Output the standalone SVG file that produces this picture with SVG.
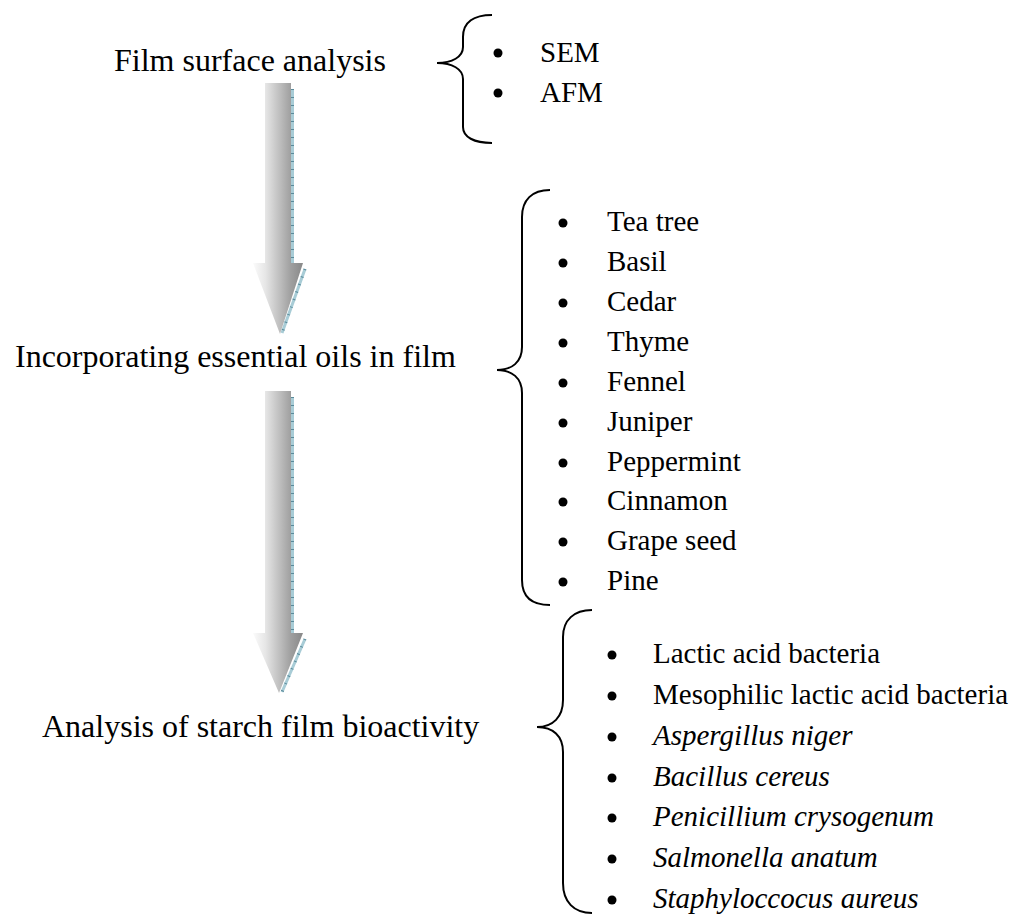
<svg xmlns="http://www.w3.org/2000/svg" width="1025" height="914" viewBox="0 0 1025 914">
<style>
.lbl{font-family:"Liberation Serif","Times New Roman",serif;font-size:32px;fill:#000}
.it{font-family:"Liberation Serif","Times New Roman",serif;font-size:29px;fill:#000}
.i{font-style:italic}
.brace{fill:none;stroke:#000;stroke-width:2}
.edge{fill:none;stroke:#a8ccd6;stroke-width:3}
.tick{fill:none;stroke:#5a8a9a;stroke-width:3;stroke-dasharray:1 7}
</style>
<defs>
<linearGradient id="g" x1="0" y1="0" x2="1" y2="0">
<stop offset="0" stop-color="#fbfbfb"/>
<stop offset="0.25" stop-color="#e6e6e6"/>
<stop offset="0.75" stop-color="#a0a0a0"/>
<stop offset="1" stop-color="#888"/>
</linearGradient>
</defs>
<rect width="1025" height="914" fill="#fff"/>
<g id="connectors">
<g id="arrow1">
<path class="edge" d="M292.5 89 V263 M305 269 L282 333"/>
<path class="tick" d="M292.5 89 V263 M305 269 L282 333"/>
<polygon points="265,83 291,83 291,263 303,263 280,334 253,263 265,263" fill="url(#g)"/>
</g>
<g id="arrow2">
<path class="edge" d="M292.5 397 V633 M305 639 L282 692"/>
<path class="tick" d="M292.5 397 V633 M305 639 L282 692"/>
<polygon points="265,391 291,391 291,633 303,633 279,693 253,633 265,633" fill="url(#g)"/>
</g>
</g>
<g id="node-film-surface">
<text class="lbl" x="114" y="71">Film surface analysis</text>
<path class="brace" d="M492 15 C474 15 463 22 463 37 L463 47 C463 57 452 63 437 63 C452 63 463 69 463 79 L463 127 C463 137 474 143 492 143"/>
<circle cx="498" cy="53" r="4.5"/>
<circle cx="498" cy="93" r="4.5"/>
<text class="it" x="540" y="62">SEM</text>
<text class="it" x="540" y="102">AFM</text>
</g>
<g id="node-essential-oils">
<text class="lbl" x="15" y="367">Incorporating essential oils in film</text>
<path class="brace" d="M550 190 C532 190 522 200 522 217 L522 347 C522 362 512 370 497 370 C512 370 522 378 522 393 L522 580 C522 597 532 605 550 605"/>
<g id="oil-bullets">
<circle cx="563" cy="223" r="4.5"/><circle cx="563" cy="263" r="4.5"/><circle cx="563" cy="303" r="4.5"/><circle cx="563" cy="343" r="4.5"/><circle cx="563" cy="383" r="4.5"/><circle cx="563" cy="423" r="4.5"/><circle cx="563" cy="463" r="4.5"/><circle cx="563" cy="502" r="4.5"/><circle cx="563" cy="542" r="4.5"/><circle cx="563" cy="582" r="4.5"/>
</g>
<text class="it" x="607" y="231">Tea tree</text>
<text class="it" x="607" y="271">Basil</text>
<text class="it" x="607" y="311">Cedar</text>
<text class="it" x="607" y="351">Thyme</text>
<text class="it" x="607" y="391">Fennel</text>
<text class="it" x="607" y="431">Juniper</text>
<text class="it" x="607" y="471">Peppermint</text>
<text class="it" x="607" y="510">Cinnamon</text>
<text class="it" x="607" y="550">Grape seed</text>
<text class="it" x="607" y="590">Pine</text>
</g>
<g id="node-bioactivity">
<text class="lbl" x="42" y="737">Analysis of starch film bioactivity</text>
<path class="brace" d="M592 610 C574 610 563 620 563 637 L563 700 C563 717 553 727 537 727 C553 727 563 736 563 752 L563 883 C563 902 574 913 592 913"/>
<g id="bio-bullets">
<circle cx="612" cy="655" r="4.5"/><circle cx="612" cy="696" r="4.5"/><circle cx="612" cy="737" r="4.5"/><circle cx="612" cy="778" r="4.5"/><circle cx="612" cy="818" r="4.5"/><circle cx="612" cy="859" r="4.5"/><circle cx="612" cy="900" r="4.5"/>
</g>
<text class="it" x="653" y="663">Lactic acid bacteria</text>
<text class="it" x="653" y="704">Mesophilic lactic acid bacteria</text>
<text class="it i" x="653" y="745">Aspergillus niger</text>
<text class="it i" x="653" y="786">Bacillus cereus</text>
<text class="it i" x="653" y="826">Penicillium crysogenum</text>
<text class="it i" x="653" y="867">Salmonella anatum</text>
<text class="it i" x="653" y="908">Staphyloccocus aureus</text>
</g>
</svg>
